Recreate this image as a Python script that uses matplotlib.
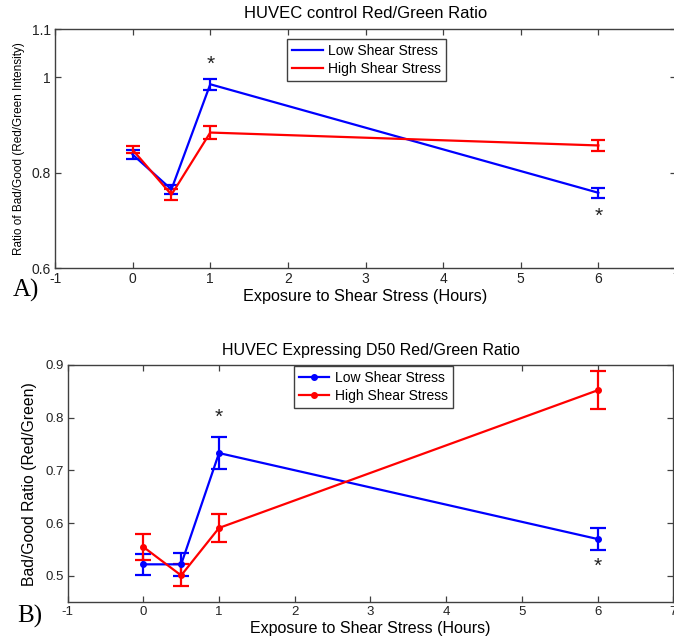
import matplotlib
matplotlib.use("Agg")
import matplotlib.pyplot as plt
from matplotlib.lines import Line2D

plt.rcParams['font.family'] = ['Liberation Sans', 'DejaVu Sans']
plt.rcParams['axes.unicode_minus'] = False

hours = [0, 0.5, 1, 6]

# Panel A: HUVEC control
a_low = [0.838, 0.765, 0.985, 0.758]
a_low_err = [0.010, 0.010, 0.011, 0.011]
a_high = [0.848, 0.754, 0.884, 0.857]
a_high_err = [0.007, 0.011, 0.014, 0.012]
a_star_x = [1, 6]
a_star_y = [1.026, 0.708]

# Panel B: HUVEC expressing D50
b_low = [0.522, 0.522, 0.733, 0.570]
b_low_err = [0.020, 0.022, 0.030, 0.021]
b_high = [0.555, 0.501, 0.591, 0.852]
b_high_err = [0.024, 0.021, 0.027, 0.036]
b_star_x = [1, 6]
b_star_y = [0.800, 0.518]

series_labels = ['Low Shear Stress', 'High Shear Stress']
xticks = [-1, 0, 1, 2, 3, 4, 5, 6, 7]
a_yticks = [0.6, 0.8, 1.0, 1.1]
a_yticklabels = ['0.6', '0.8', '1', '1.1']
b_yticks = [0.5, 0.6, 0.7, 0.8, 0.9]
b_yticklabels = ['0.5', '0.6', '0.7', '0.8', '0.9']

W, H = 674, 638
fig = plt.figure(figsize=(W / 100, H / 100), dpi=100)

def px_axes(l, t, r, b):
    return fig.add_axes([l / W, 1 - b / H, (r - l) / W, (b - t) / H])

BLUE = '#0000FF'
RED = '#FF0000'
SPINE = '#404040'

def style(ax, fs):
    for s in ax.spines.values():
        s.set_color(SPINE)
        s.set_linewidth(1.0)
    ax.tick_params(direction='in', top=True, right=True, length=4,
                   width=0.9, color=SPINE, labelsize=fs, labelcolor='#222222',
                   pad=3)

def legend(ax, x0, y0, marker):
    handles = [Line2D([], [], color=BLUE, lw=1.6, marker=marker, markersize=4),
               Line2D([], [], color=RED, lw=1.6, marker=marker, markersize=4)]
    leg = ax.legend(handles, series_labels, loc='upper left',
                    bbox_to_anchor=(x0 / W, 1 - y0 / H),
                    bbox_transform=fig.transFigure, fontsize=10, frameon=True,
                    fancybox=False, edgecolor='#404040', handlelength=2.2,
                    handletextpad=0.4, labelspacing=0.3, borderpad=0.35,
                    borderaxespad=0, framealpha=1)
    leg.get_frame().set_linewidth(1.0)
    return leg

# ---------- Panel A ----------
axA = px_axes(55, 29.3, 676, 268.3)
axA.errorbar(hours, a_low, yerr=a_low_err, color=BLUE, lw=1.6, capsize=5,
             capthick=1.6, elinewidth=1.6)
axA.errorbar(hours, a_high, yerr=a_high_err, color=RED, lw=1.6, capsize=5,
             capthick=1.6, elinewidth=1.6)
axA.set_xlim(-1, 7)
axA.set_ylim(0.6, 1.1)
axA.set_xticks(xticks)
axA.set_yticks(a_yticks)
axA.set_yticklabels(a_yticklabels)
style(axA, 10)
for x, y in zip(a_star_x, a_star_y):
    axA.text(x, y, '*', ha='center', va='center', fontsize=15, color='#222222')
axA.set_title('HUVEC control Red/Green Ratio', fontsize=12, pad=8)
axA.set_xlabel('Exposure to Shear Stress (Hours)', fontsize=11.7, labelpad=2)
axA.set_ylabel('Ratio of Bad/Good (Red/Green Intensity)', fontsize=8.5, labelpad=5)
legend(axA, 287.3, 39.3, None)
fig.text(13 / W, 1 - 297 / H, 'A)', fontsize=18, family=['Liberation Serif', 'DejaVu Serif'],
         ha='left', va='baseline')

# ---------- Panel B ----------
axB = px_axes(67.6, 365, 673.3, 602.3)
axB.errorbar(hours, b_low, yerr=b_low_err, color=BLUE, lw=1.6, capsize=5.5,
             capthick=1.6, elinewidth=1.6, marker='o', markersize=4)
axB.errorbar(hours, b_high, yerr=b_high_err, color=RED, lw=1.6, capsize=5.5,
             capthick=1.6, elinewidth=1.6, marker='o', markersize=4)
axB.set_xlim(-1, 7)
axB.set_ylim(0.45, 0.9)
axB.set_xticks(xticks)
axB.set_yticks(b_yticks)
axB.set_yticklabels(b_yticklabels)
style(axB, 9.5)
for x, y in zip(b_star_x, b_star_y):
    axB.text(x, y, '*', ha='center', va='center', fontsize=15, color='#222222')
axB.set_title('HUVEC Expressing D50 Red/Green Ratio', fontsize=11.5, pad=7)
axB.set_xlabel('Exposure to Shear Stress (Hours)', fontsize=11.5, labelpad=2)
axB.set_ylabel('Bad/Good Ratio (Red/Green)', fontsize=11.3, labelpad=6)
legend(axB, 294, 366, 'o')
fig.text(17 / W, 1 - 623 / H, 'B)', fontsize=18, family=['Liberation Serif', 'DejaVu Serif'],
         ha='left', va='baseline')

fig.savefig('out.png', dpi=100)
